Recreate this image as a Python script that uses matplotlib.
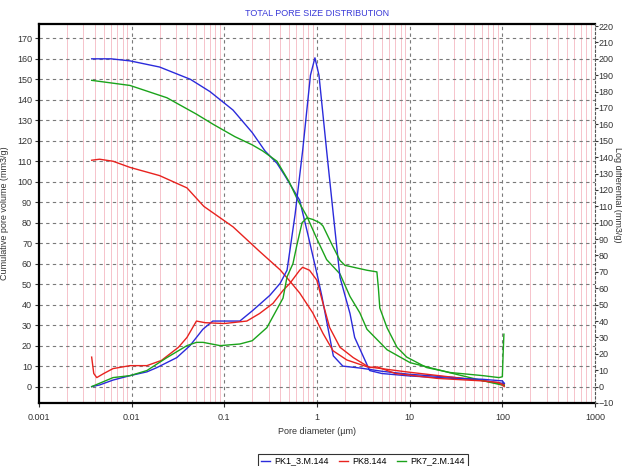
import matplotlib
matplotlib.use("Agg")
import matplotlib.pyplot as plt
from matplotlib.ticker import FixedLocator, FuncFormatter, NullFormatter

# ---------------- data ----------------
series_names = ["PK1_3.M.144", "PK8.144", "PK7_2.M.144"]

# cumulative pore volume (left axis, mm3/g)
pk1_cum_x = [0.0037, 0.006, 0.0096, 0.02, 0.043, 0.07, 0.124, 0.2, 0.275, 0.37, 0.45, 0.65, 0.8, 1.0,
             1.13, 1.27, 1.5, 1.9, 3.0, 5.0, 10, 30, 60, 105]
pk1_cum_y = [160, 160, 159, 156, 150, 144, 135, 124, 115, 109, 103, 91, 74, 55,
             44, 32, 15, 10, 9, 7.5, 6, 4.5, 3, 1.5]

pk8_cum_x = [0.0037, 0.0045, 0.0063, 0.0096, 0.02, 0.0395, 0.06, 0.124, 0.24, 0.40, 0.52, 0.65, 0.9,
             1.16, 1.49, 2.1, 3.46, 10, 30, 60, 105]
pk8_cum_y = [110.5, 111, 110, 107, 103, 97, 88, 78, 66, 57, 51, 45.7, 36,
             26, 17.5, 13, 9.7, 7, 4.5, 3, 1]

pk7_cum_x = [0.0037, 0.0096, 0.024, 0.05, 0.076, 0.13, 0.2, 0.26, 0.37, 0.5, 0.62, 0.78, 1.0,
             1.27, 1.77, 2.27, 2.9, 3.46, 5.7, 10.1, 27, 60, 105]
pk7_cum_y = [149.5, 147, 141, 133, 128, 122, 118, 115, 110, 100, 91, 83, 72,
             62, 55, 44, 36, 28, 18, 11.7, 6.8, 3, 0.5]

# pore size distribution (right axis)
pk1_dist_x = [0.0037, 0.0045, 0.0063, 0.0096, 0.0146, 0.0187, 0.0307, 0.0426, 0.0587, 0.075, 0.096,
              0.147, 0.203, 0.31, 0.40, 0.475, 0.58, 0.70, 0.85, 0.95, 1.05, 1.27, 1.5, 1.77, 2.27,
              2.55, 3.7, 5, 10, 30, 60, 100, 105]
pk1_dist_y = [0, 1, 4, 6.7, 9, 11.6, 17.7, 25, 35, 40, 40,
              40, 46.5, 55.7, 63, 71, 105, 144, 190, 200.6, 190, 144, 105, 66.7, 44.6,
              30, 9.8, 8, 6.5, 5, 4.5, 3.5, 2]

pk8_dist_x = [0.0037, 0.0039, 0.0042, 0.005, 0.0063, 0.0096, 0.0146, 0.021, 0.032, 0.0395, 0.05,
              0.062, 0.1, 0.175, 0.24, 0.335, 0.43, 0.51, 0.65, 0.70, 0.83, 0.995, 1.16, 1.37,
              1.77, 2.46, 3.7, 4.5, 7, 20, 60, 92, 105]
pk8_dist_y = [18, 8, 5.5, 8, 11, 12.8, 12.8, 16, 24, 30, 40,
              39, 38.5, 40, 44.6, 50.8, 58.7, 63, 71, 72.8, 71, 65, 50.8, 36,
              24, 17.7, 11.6, 12, 8, 5, 3.5, 2.5, 0]

pk7_dist_x = [0.0037, 0.0063, 0.0096, 0.0146, 0.024, 0.0395, 0.05, 0.059, 0.09, 0.147, 0.2, 0.288,
              0.43, 0.475, 0.55, 0.61, 0.69, 0.78, 0.9, 1.07, 1.16, 1.44, 1.77, 2.0, 3.46, 4.43,
              4.6, 4.76, 5.69, 7.3, 9.3, 15.3, 27.3, 61.5, 92, 100, 102, 104]
pk7_dist_y = [0, 5.5, 6.7, 9.8, 17.7, 25, 27, 27, 25, 26, 28, 36,
              54, 67, 75, 87, 100, 103, 102, 100, 98, 87, 77, 74, 71, 70,
              60, 48, 36, 24, 18, 11.6, 8.6, 6.7, 5.5, 6, 20, 32]

x_ticks = [0.001, 0.01, 0.1, 1, 10, 100, 1000]
x_tick_labels = ["0.001", "0.01", "0.1", "1", "10", "100", "1000"]
left_ticks = list(range(0, 171, 10))
right_ticks = list(range(-10, 221, 10))

colors = ["#2b2bdb", "#e8231f", "#1ba31b"]

# ---------------- figure ----------------
plt.rcParams['font.family'] = ['Liberation Sans', 'DejaVu Sans']
fig = plt.figure(figsize=(6.22, 4.66), dpi=100)
ax = fig.add_axes([39/622, 1-403/466, (595-39)/622, (403-24)/466])
ax2 = ax.twinx()

ax.set_xscale("log")
ax.set_xlim(0.001, 1000)
ax.set_ylim(-8, 177)
ax2.set_ylim(-10, 221.25)

# grid
minor = [m * 10.0**e for e in range(-3, 3) for m in range(2, 10)]
for xv in minor:
    ax.axvline(xv, color="#f5b9c3", lw=0.6, zorder=0)
for xv in x_ticks[1:-1]:
    ax.axvline(xv, color="#7a7a7a", lw=0.8, ls=(0, (3, 3)), zorder=0.5)
for yv in left_ticks:
    ax.axhline(yv, color="#7a7a7a", lw=0.8, ls=(0, (3, 3)), zorder=0.5)

# lines
cum = [(pk1_cum_x, pk1_cum_y), (pk8_cum_x, pk8_cum_y), (pk7_cum_x, pk7_cum_y)]
dist = [(pk1_dist_x, pk1_dist_y), (pk8_dist_x, pk8_dist_y), (pk7_dist_x, pk7_dist_y)]
handles = []
for (cx, cy), (dx, dy), c, n in zip(cum, dist, colors, series_names):
    h, = ax.plot(cx, cy, color=c, lw=1.0, label=n, zorder=3)
    ax2.plot(dx, dy, color=c, lw=1.0, zorder=3)
    handles.append(h)

# ticks
ax.xaxis.set_major_locator(FixedLocator(x_ticks))
ax.xaxis.set_major_formatter(FuncFormatter(lambda v, p: x_tick_labels[x_ticks.index(v)] if v in x_ticks else ""))
ax.xaxis.set_minor_formatter(NullFormatter())
ax.tick_params(axis="x", which="minor", length=0)
ax.tick_params(axis="x", which="major", length=3, labelsize=6.5, colors="#333333", pad=4)
ax.set_yticks(left_ticks)
ax.tick_params(axis="y", length=3, labelsize=6.5, colors="#333333", pad=2)
ax2.set_yticks(right_ticks)
ax2.tick_params(axis="y", length=2, labelsize=6.5, colors="#333333", pad=0.5)

for s in ["left", "bottom", "top"]:
    ax.spines[s].set_linewidth(1.6)
    ax.spines[s].set_color("black")
ax.spines["right"].set_visible(False)
for s in ["left", "bottom", "top"]:
    ax2.spines[s].set_visible(False)
ax2.spines["right"].set_linestyle((0, (2, 2)))
ax2.spines["right"].set_linewidth(0.8)
ax2.spines["right"].set_color("#555555")

ax.set_xlabel("Pore diameter (\u00b5m)", fontsize=6.5, color="#333333", labelpad=4)
ax.set_ylabel("Cumulative pore volume (mm3/g)", fontsize=6.5, color="#333333", labelpad=6)
fig.text(613/622, 1-195/466, "Log differential (mm3/g)", rotation=270,
         fontsize=6.5, color="#333333", ha="left", va="center")

fig.text(317/622, 1-13/466, "TOTAL PORE SIZE DISTRIBUTION", fontsize=6.5,
         color="#3a3ad8", ha="center", va="center")

leg = fig.legend(handles=handles, labels=series_names, loc="upper center",
                 bbox_to_anchor=(363/622, 1-449/466), ncol=3, fontsize=6.5,
                 frameon=True, fancybox=False, edgecolor="black", handlelength=1.0,
                 handletextpad=0.4, columnspacing=1.2, borderpad=0.35)
leg.get_frame().set_linewidth(0.8)

fig.savefig("out.png", dpi=100)
